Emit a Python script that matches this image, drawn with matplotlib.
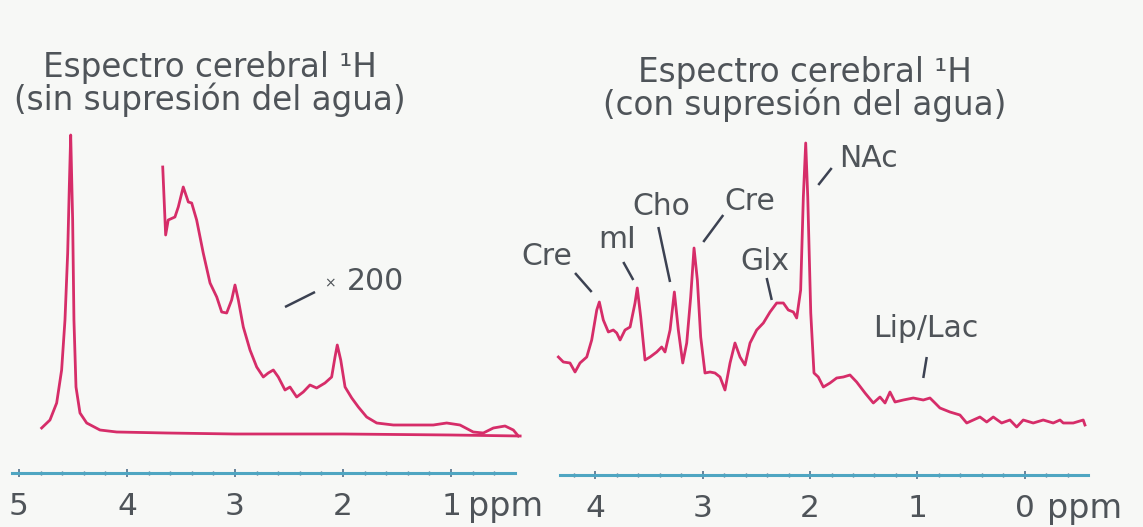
import numpy as np
import matplotlib.pyplot as plt

# espectro sin supresion del agua (ppm, intensidad a.u.)
ppm_agua = [4.79, 4.713, 4.651, 4.605, 4.574, 4.549, 4.534, 4.521, 4.503, 4.491,
            4.472, 4.435, 4.373, 4.25, 4.095, 3.632, 3.0, 2.0, 1.0, 0.36]
int_agua = [45, 53, 70, 103, 153, 220, 286, 338, 253, 153,
            86, 60, 50, 43, 41, 40, 39, 39, 38, 37]

# mismo espectro x200
ppm_x200 = [3.669, 3.642, 3.618, 3.556, 3.525, 3.479, 3.432, 3.401, 3.355, 3.294,
            3.231, 3.169, 3.123, 3.077, 3.031, 3.0, 2.969, 2.923, 2.861, 2.799,
            2.738, 2.692, 2.645, 2.599, 2.537, 2.491, 2.429, 2.368, 2.306, 2.244,
            2.167, 2.105, 2.074, 2.053, 2.021, 1.981, 1.919, 1.858, 1.781, 1.688,
            1.534, 1.349, 1.164, 1.040, 0.917, 0.794, 0.701, 0.608, 0.5, 0.423, 0.377]
int_x200 = [306, 238, 253, 256, 266, 286, 271, 270, 253, 220,
            190, 176, 161, 160, 173, 188, 173, 146, 123, 106,
            96, 100, 103, 96, 83, 86, 76, 81, 88, 85,
            90, 96, 116, 128, 113, 86, 75, 66, 56, 50,
            48, 48, 48, 50, 48, 41, 40, 45, 47, 43, 37]

# espectro con supresion del agua
ppm_sup = [4.341, 4.295, 4.233, 4.186, 4.140, 4.077, 4.031, 3.984, 3.960, 3.923,
           3.876, 3.830, 3.798, 3.767, 3.721, 3.674, 3.628, 3.607, 3.575, 3.535,
           3.488, 3.426, 3.380, 3.349, 3.302, 3.262, 3.225, 3.184, 3.147, 3.110,
           3.079, 3.048, 3.017, 2.977, 2.930, 2.884, 2.837, 2.791, 2.744, 2.698,
           2.651, 2.605, 2.558, 2.496, 2.434, 2.372, 2.310, 2.248, 2.202, 2.155,
           2.124, 2.087, 2.062, 2.040, 2.021, 1.993, 1.963, 1.923, 1.876, 1.814,
           1.752, 1.690, 1.628, 1.566, 1.488, 1.411, 1.349, 1.302, 1.256, 1.209,
           1.132, 1.039, 0.946, 0.884, 0.837, 0.791, 0.698, 0.605, 0.542, 0.481,
           0.419, 0.356, 0.295, 0.217, 0.140, 0.077, 0.016, -0.077, -0.170, -0.263,
           -0.326, -0.356, -0.449, -0.542, -0.558]
int_sup = [118, 113, 112, 103, 112, 118, 135, 165, 173, 155,
           143, 145, 142, 135, 145, 148, 172, 187, 158, 115,
           118, 123, 128, 123, 145, 183, 145, 112, 132, 178,
           227, 195, 138, 102, 103, 102, 98, 85, 112, 132,
           118, 110, 132, 145, 152, 163, 172, 172, 165, 163,
           157, 185, 278, 332, 278, 162, 102, 98, 88, 92,
           97, 98, 100, 93, 82, 72, 78, 72, 83, 73,
           75, 77, 75, 77, 72, 67, 63, 60, 52, 55,
           58, 53, 58, 52, 55, 48, 55, 52, 55, 52,
           55, 52, 52, 55, 50]

# etiquetas de picos: texto, posicion texto, linea guia
etiquetas = ['Cre', 'mI', 'Cho', 'Cre', 'Glx', 'NAc', 'Lip/Lac']
etq_xy = [(4.214, 210), (3.791, 227), (3.386, 260), (2.558, 265),
          (2.419, 205), (1.460, 308), (0.921, 138)]
etq_ha = ['right', 'center', 'center', 'center', 'center', 'center', 'center']
guias = [((4.186, 202), (4.031, 183)), ((3.737, 213), (3.644, 195)),
         ((3.411, 248), (3.302, 193)), ((2.807, 260), (2.993, 233)),
         ((2.403, 197), (2.356, 175)), ((1.798, 307), (1.923, 290)),
         ((0.914, 118), (0.946, 97))]

titulo_izq = 'Espectro cerebral ¹H\n(sin supresión del agua)'
titulo_der = 'Espectro cerebral ¹H\n(con supresión del agua)'

color_traza = '#d62d69'
color_texto = '#4f5459'
color_guia = '#3c4252'
color_eje = '#4fa6c2'
fondo = '#f7f8f6'

W, H = 1143, 527
fig = plt.figure(figsize=(W / 100, H / 100), dpi=100, facecolor=fondo)

ax1 = fig.add_axes([10 / W, (H - 480) / H, 515 / W, 360 / H])
ax2 = fig.add_axes([540 / W, (H - 480) / H, 560 / W, 360 / H])
ax1.set_xlim(5.083, 0.315)
ax1.set_ylim(-7, 353)
ax2.set_xlim(4.512, -0.698)
ax2.set_ylim(-5, 355)

tk = 22.5
pad = 11
for ax, bounds, major, minor in [
        (ax1, (5.06, 0.41), [5, 4, 3, 2, 1], np.arange(0.6, 5.0, 0.2)),
        (ax2, (4.33, -0.59), [4, 3, 2, 1, 0], np.arange(-0.4, 4.3, 0.2))]:
    ax.set_facecolor('none')
    for s in ['left', 'right', 'top']:
        ax.spines[s].set_visible(False)
    ax.spines['bottom'].set_position(('data', 0))
    ax.spines['bottom'].set_bounds(*bounds)
    ax.spines['bottom'].set_color(color_eje)
    ax.spines['bottom'].set_linewidth(2.2)
    ax.set_yticks([])
    ax.set_xticks(major)
    ax.set_xticks(np.round(minor, 2), minor=True)
    ax.set_xticklabels([str(m) for m in major])
    ax.tick_params(axis='x', which='major', direction='inout', length=6,
                   width=1.2, color='#51708a', pad=pad, labelsize=tk,
                   labelcolor=color_texto)
    ax.tick_params(axis='x', which='minor', direction='inout', length=3.5,
                   width=1.0, color='#51708a')

ax1.plot(ppm_agua, int_agua, color=color_traza, lw=2.0)
ax1.plot(ppm_x200, int_x200, color=color_traza, lw=2.0)
ax2.plot(ppm_sup, int_sup, color=color_traza, lw=2.0)

# unidades, sobre la misma linea base que los numeros
for ax, x in [(ax1, 0.84), (ax2, -0.205)]:
    ax.annotate('ppm', xy=(x, 0), xytext=(0, -31.3),
                textcoords='offset points', ha='left', va='baseline',
                fontsize=24, color=color_texto)

# x200
ax1.text(1.966, 183, '200', fontsize=21.5, color=color_texto, ha='left', va='baseline')
ax1.text(2.12, 190, '×', fontsize=10, color=color_texto, ha='center', va='center')
ax1.plot([2.537, 2.259], [166, 181], color=color_guia, lw=1.8, solid_capstyle='butt')

for txt, (x, y), ha, (p0, p1) in zip(etiquetas, etq_xy, etq_ha, guias):
    ax2.text(x, y, txt, fontsize=21.5, color=color_texto, ha=ha, va='baseline')
    ax2.plot([p0[0], p1[0]], [p0[1], p1[1]], color=color_guia, lw=1.8,
             solid_capstyle='butt')

# titulos
fig.text(210 / W, 1 - 110 / H, titulo_izq, fontsize=23.5, color=color_texto,
         ha='center', va='baseline', multialignment='center', linespacing=0.95)
fig.text(805 / W, 1 - 115 / H, titulo_der, fontsize=23.5, color=color_texto,
         ha='center', va='baseline', multialignment='center', linespacing=0.95)

fig.savefig('out.png', dpi=100, facecolor=fondo)
